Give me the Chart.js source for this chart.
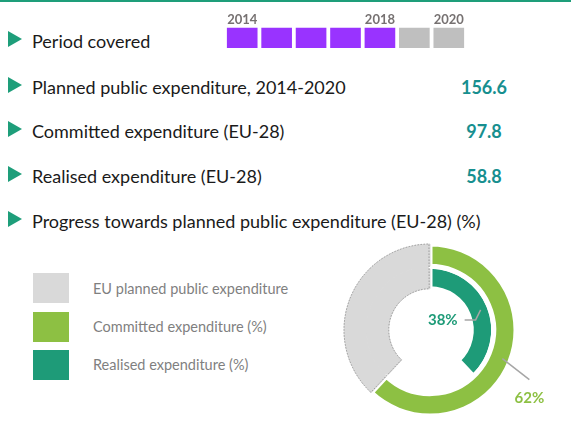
<!DOCTYPE html>
<html>
<head>
<meta charset="utf-8">
<script src="https://cdn.jsdelivr.net/npm/chart.js@4.4.1/dist/chart.umd.min.js"></script>
<style>
  html, body { margin: 0; padding: 0; background: #ffffff; }
  body { width: 571px; height: 426px; position: relative; overflow: hidden; font-family: "Lato", "Open Sans", sans-serif; }
  .topline { position: absolute; left: 0; top: 0; width: 571px; height: 2px; background: #1E9E7A; }
  .tri { position: absolute; left: 8px; width: 0; height: 0; border-left: 14px solid #1E9E7A; border-top: 8px solid transparent; border-bottom: 8px solid transparent; }
  .row { position: absolute; left: 32px; font-size: 18px; line-height: 24px; height: 24px; color: #1a1a1a; white-space: nowrap; }
  .val { position: absolute; width: 80px; left: 444px; text-align: center; font-weight: bold; font-size: 18px; line-height: 24px; height: 24px; color: #178F8F; }
  .sw { position: absolute; left: 33px; width: 36px; height: 30px; }
  .lg { position: absolute; left: 93px; font-size: 14.5px; line-height: 20px; height: 20px; color: #7F7F7F; white-space: nowrap; }
  #tl { position: absolute; left: 225px; top: 12px; }
  #dn { position: absolute; left: 330px; top: 240px; }
</style>
</head>
<body>
<div class="topline"></div>

<div class="tri" style="top:31px"></div>
<div class="row" id="r0" style="top:29px">Period covered</div>

<div class="tri" style="top:77px"></div>
<div class="row" id="r1" style="top:75px">Planned public expenditure, 2014-2020</div>
<div class="val" id="v1" style="top:75px"></div>

<div class="tri" style="top:121px"></div>
<div class="row" id="r2" style="top:119px">Committed expenditure (EU-28)</div>
<div class="val" id="v2" style="top:119px"></div>

<div class="tri" style="top:166px"></div>
<div class="row" id="r3" style="top:164px">Realised expenditure (EU-28)</div>
<div class="val" id="v3" style="top:164px"></div>

<div class="tri" style="top:211px"></div>
<div class="row" id="r4" style="top:209px">Progress towards planned public expenditure (EU-28) (%)</div>

<div class="sw" style="top:273px;background:#D9D9D9"></div>
<div class="lg" style="top:279px">EU planned public expenditure</div>
<div class="sw" style="top:312px;background:#8DC043"></div>
<div class="lg" style="top:317px">Committed expenditure (%)</div>
<div class="sw" style="top:350px;background:#1E9B78"></div>
<div class="lg" style="top:355px">Realised expenditure (%)</div>

<canvas id="tl" width="241" height="36"></canvas>
<canvas id="dn" width="240" height="180"></canvas>

<script>
// ---- data ----
const years = ['2014', '2015', '2016', '2017', '2018', '2019', '2020'];
const yearShown = ['2014', '2018', '2020'];
const periodCovered = [1, 1, 1, 1, 1, 0, 0];   // 1 = covered by the data
const plannedTotal = 156.6;   // EUR bn
const committedTotal = 97.8;
const realisedTotal = 58.8;
const committedPct = 62;
const realisedPct = 38;

document.getElementById('v1').textContent = plannedTotal.toFixed(1);
document.getElementById('v2').textContent = committedTotal.toFixed(1);
document.getElementById('v3').textContent = realisedTotal.toFixed(1);

const PURPLE = '#9933FF', LGRAY = '#BFBFBF';
const GREEN = '#8DC043', TEAL = '#1E9B78', PGRAY = '#D9D9D9';

// ---- timeline ----
new Chart(document.getElementById('tl'), {
  type: 'bar',
  data: {
    labels: years,
    datasets: [{
      data: periodCovered.map(() => 1),
      backgroundColor: periodCovered.map(c => c ? PURPLE : LGRAY),
      borderWidth: 0,
      categoryPercentage: 1,
      barPercentage: 0.89
    }]
  },
  options: {
    responsive: false,
    animation: false,
    events: [],
    layout: { padding: 0 },
    plugins: { legend: { display: false }, tooltip: { enabled: false } },
    scales: {
      x: {
        position: 'top',
        grid: { display: false, drawTicks: false },
        border: { display: false },
        ticks: {
          padding: 0,
          autoSkip: false,
          maxRotation: 0,
          color: '#767171',
          font: { family: 'Lato', weight: 'bold', size: 13 },
          callback: function (v, i) { const l = years[i]; return yearShown.includes(l) ? l : ''; }
        }
      },
      y: { display: false, min: 0, max: 1 }
    }
  }
});

// ---- doughnut ----
const leaderPlugin = {
  id: 'leaders',
  afterDatasetsDraw(chart) {
    const ctx = chart.ctx;
    ctx.save();
    // dotted outline of the planned (grey) area spanning both rings
    const go = chart.getDatasetMeta(0).data[1];
    const gi = chart.getDatasetMeta(1).data[2];
    ctx.strokeStyle = '#8C8C8C';
    ctx.lineWidth = 0.8;
    ctx.setLineDash([1.5, 1.5]);
    ctx.beginPath();
    ctx.arc(go.x, go.y, go.outerRadius, go.startAngle + 0.005, go.endAngle - 0.012);
    ctx.arc(gi.x, gi.y, gi.innerRadius, gi.endAngle - 0.02, gi.startAngle + 0.01, true);
    ctx.closePath();
    ctx.stroke();
    ctx.setLineDash([]);

    ctx.strokeStyle = '#A6A6A6';
    ctx.lineWidth = 1.5;
    ctx.font = 'bold 15px Lato';
    // committed (outer ring, first slice)
    const g = chart.getDatasetMeta(0).data[0];
    let mid = (g.startAngle + g.endAngle) / 2;
    let r = (g.innerRadius + g.outerRadius) / 2 + 3;
    let sx = g.x + Math.cos(mid) * r, sy = g.y + Math.sin(mid) * r;
    ctx.beginPath(); ctx.moveTo(sx, sy); ctx.lineTo(sx + 27, sy + 21); ctx.stroke();
    ctx.fillStyle = GREEN; ctx.textAlign = 'center'; ctx.textBaseline = 'middle';
    ctx.fillText(committedPct + '%', sx + 27, sy + 40);
    // realised (inner ring, first slice)
    const t = chart.getDatasetMeta(1).data[0];
    mid = (t.startAngle + t.endAngle) / 2;
    r = (t.innerRadius + t.outerRadius) / 2 + 2;
    sx = t.x + Math.cos(mid) * r; sy = t.y + Math.sin(mid) * r;
    ctx.beginPath(); ctx.moveTo(sx, sy); ctx.lineTo(sx - 5, sy + 10); ctx.lineTo(sx - 16, sy + 10); ctx.stroke();
    ctx.fillStyle = TEAL; ctx.textAlign = 'right';
    ctx.fillText(realisedPct + '%', sx - 23, sy + 10);
    ctx.restore();
  }
};

new Chart(document.getElementById('dn'), {
  type: 'doughnut',
  data: {
    labels: ['Committed / Realised', 'Remaining', 'EU planned public expenditure'],
    datasets: [
      {
        data: [committedPct, 100 - committedPct],
        backgroundColor: [GREEN, PGRAY],
        borderColor: ['#ffffff', PGRAY],
        borderWidth: [5, 1],
        weight: 1
      },
      {
        data: [realisedPct, committedPct - realisedPct, 100 - committedPct],
        backgroundColor: [TEAL, 'rgba(0,0,0,0)', PGRAY],
        borderColor: ['#ffffff', 'rgba(0,0,0,0)', PGRAY],
        borderWidth: [5, 0, 1],
        weight: 1
      }
    ]
  },
  options: {
    responsive: false,
    animation: false,
    events: [],
    radius: 86,
    cutout: 42,
    layout: { padding: { right: 40 } },
    plugins: { legend: { display: false }, tooltip: { enabled: false } }
  },
  plugins: [leaderPlugin]
});
</script>
</body>
</html>
